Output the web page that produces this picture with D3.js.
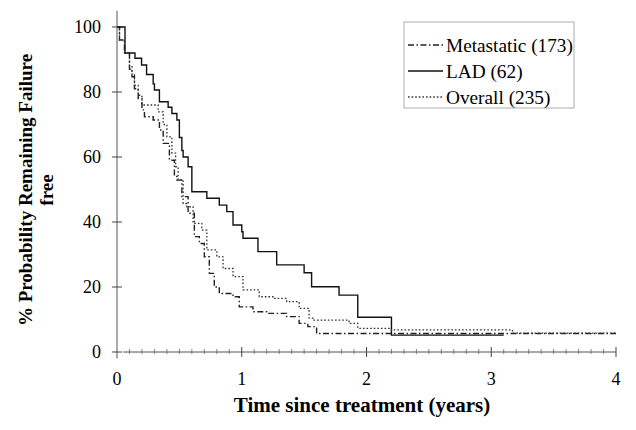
<!DOCTYPE html>
<html>
<head>
<meta charset="utf-8">
<script src="https://cdn.jsdelivr.net/npm/d3@7/dist/d3.min.js"></script>
<style>
  body { margin: 0; background: #fff; }
  svg { font-family: 'Liberation Serif', 'Times New Roman', serif; }
</style>
</head>
<body>
<svg id="chart" width="636" height="430"></svg>
<script>
// Kaplan-Meier step curves (time in years, % failure free)
var metaTime = [0, 0.02, 0.06, 0.10, 0.12, 0.14, 0.17, 0.20, 0.22, 0.29, 0.34, 0.37, 0.42, 0.46, 0.48, 0.52, 0.57, 0.62, 0.66, 0.70, 0.74, 0.78, 0.82, 0.93, 0.98, 1.09, 1.20, 1.36, 1.46, 1.53, 1.60, 4.0];
var metaValue = [100, 96, 92, 87, 84.7, 81, 78, 74.5, 72.4, 71.4, 68.3, 64.2, 59, 54, 52.9, 47.8, 42.7, 35.5, 33.4, 29.3, 24.2, 20, 18, 17, 13.9, 12.4, 11.9, 10.9, 8.8, 7.8, 5.7, 5.7];

var ladTime = [0, 0.064, 0.144, 0.197, 0.237, 0.29, 0.30, 0.34, 0.41, 0.44, 0.48, 0.50, 0.52, 0.53, 0.57, 0.60, 0.72, 0.82, 0.88, 0.93, 1.00, 1.01, 1.13, 1.28, 1.50, 1.56, 1.78, 1.93, 2.2, 3.1];
var ladValue = [100, 92, 90.4, 88.3, 85.4, 82.5, 80.6, 77, 75.3, 73.4, 71.4, 66, 62, 60, 57, 49.3, 47.3, 45.2, 43.2, 39.1, 37, 35, 30.9, 26.8, 24.4, 20.1, 17.5, 10.7, 5.2, 5.2];

var overallTime = [0, 0.02, 0.06, 0.10, 0.12, 0.14, 0.17, 0.20, 0.33, 0.37, 0.40, 0.44, 0.47, 0.49, 0.53, 0.56, 0.61, 0.68, 0.72, 0.80, 0.85, 0.93, 1.01, 1.14, 1.25, 1.36, 1.46, 1.54, 1.57, 1.86, 1.93, 2.2, 3.17, 4.0];
var overallValue = [100, 96, 92, 88, 85.5, 82, 79, 76, 73.9, 70, 66.2, 61.2, 57, 53, 45.7, 44.7, 39.6, 37.5, 31.4, 29.3, 25.7, 23.2, 19.1, 17, 16.5, 15.5, 13.4, 10.4, 9.8, 8.8, 7.3, 6.8, 5.8, 5.8];

var seriesNames = ["Metastatic (173)", "LAD (62)", "Overall (235)"];
var xTicks = [0, 1, 2, 3, 4];
var yTicks = [0, 20, 40, 60, 80, 100];

var svg = d3.select("#chart");

var x = d3.scaleLinear().domain([0, 4]).range([117, 616]);
var y = d3.scaleLinear().domain([0, 100]).range([352, 27]);

// axes lines
svg.append("line")
    .attr("x1", x(0)).attr("x2", x(0))
    .attr("y1", y(105)).attr("y2", y(-2))
    .attr("stroke", "#555").attr("stroke-width", 1);
svg.append("line")
    .attr("x1", x(0.05)).attr("x2", x(4))
    .attr("y1", y(0)).attr("y2", y(0))
    .attr("stroke", "#555").attr("stroke-width", 1);

// y ticks (crossing)
svg.selectAll(".ytick").data(yTicks).enter().append("line")
    .attr("x1", x(0) - 5).attr("x2", x(0) + 5)
    .attr("y1", d => y(d)).attr("y2", d => y(d))
    .attr("stroke", "#444").attr("stroke-width", 1);
svg.selectAll(".ylab").data(yTicks).enter().append("text")
    .attr("x", 101).attr("y", d => y(d))
    .attr("dy", "0.35em")
    .attr("text-anchor", "end")
    .style("font-size", "18px")
    .text(d => d);

// x ticks: minor every 0.1, major every year
var minor = d3.range(1, 40).map(d => d / 10).filter(d => Math.abs(d - Math.round(d)) > 1e-6);
svg.selectAll(".xminor").data(minor).enter().append("line")
    .attr("x1", d => x(d)).attr("x2", d => x(d))
    .attr("y1", y(0) - 3).attr("y2", y(0) + 2)
    .attr("stroke", "#666").attr("stroke-width", 0.8);
svg.selectAll(".xtick").data(xTicks.slice(1)).enter().append("line")
    .attr("x1", d => x(d)).attr("x2", d => x(d))
    .attr("y1", y(0) - 5).attr("y2", y(0) + 5)
    .attr("stroke", "#444").attr("stroke-width", 1);
svg.selectAll(".xlab").data(xTicks).enter().append("text")
    .attr("x", d => x(d)).attr("y", 385)
    .attr("text-anchor", "middle")
    .style("font-size", "18px")
    .text(d => d);

// axis titles
svg.append("text")
    .attr("x", 362).attr("y", 412)
    .attr("text-anchor", "middle")
    .style("font-size", "21px").style("font-weight", "bold")
    .text("Time since treatment (years)");
svg.append("text")
    .attr("transform", "translate(32,190) rotate(-90)")
    .attr("text-anchor", "middle")
    .style("font-size", "19px").style("font-weight", "bold")
    .text("% Probability Remaining Failure");
svg.append("text")
    .attr("transform", "translate(53,190) rotate(-90)")
    .attr("text-anchor", "middle")
    .style("font-size", "19px").style("font-weight", "bold")
    .text("free");

// curves
var line = d3.line()
    .x(d => x(d[0]))
    .y(d => y(d[1]))
    .curve(d3.curveStepAfter);

var styles = [
    { dash: "6,2.5,1.5,2.5", width: 1.4, color: "#222" },
    { dash: null, width: 1.4, color: "#111" },
    { dash: "1.6,2", width: 1.3, color: "#333" }
];
var allSeries = [
    d3.zip(metaTime, metaValue),
    d3.zip(ladTime, ladValue),
    d3.zip(overallTime, overallValue)
];

allSeries.forEach(function (pts, i) {
    svg.append("path")
        .datum(pts)
        .attr("fill", "none")
        .attr("stroke", styles[i].color)
        .attr("stroke-width", styles[i].width)
        .attr("stroke-dasharray", styles[i].dash)
        .attr("d", line);
});

// legend
var lg = svg.append("g");
lg.append("rect")
    .attr("x", 404).attr("y", 22).attr("width", 170).attr("height", 86)
    .attr("fill", "white").attr("stroke", "#999").attr("stroke-width", 0.8);
seriesNames.forEach(function (name, i) {
    var ly = 45 + i * 26;
    lg.append("line")
        .attr("x1", 408).attr("x2", 443)
        .attr("y1", ly).attr("y2", ly)
        .attr("stroke", styles[i].color)
        .attr("stroke-width", styles[i].width)
        .attr("stroke-dasharray", styles[i].dash);
    lg.append("text")
        .attr("x", 446).attr("y", ly)
        .attr("dy", "0.35em")
        .style("font-size", "19.3px")
        .text(name);
});
</script>
</body>
</html>
